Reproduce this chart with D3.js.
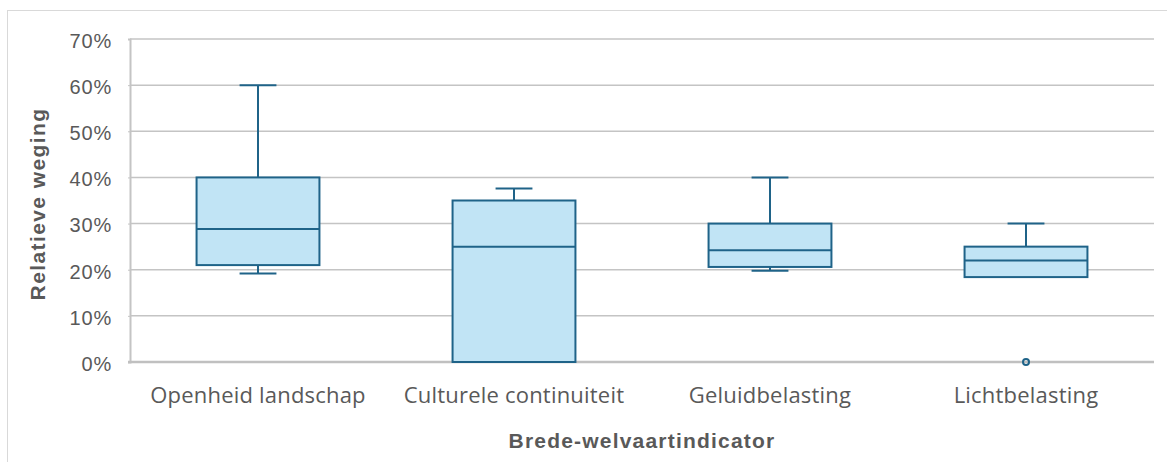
<!DOCTYPE html>
<html>
  <head>
    <meta charset="utf-8">
    <script src="https://d3js.org/d3.v7.min.js"></script>
    <style>
      body { margin: 0; background: white; }
      svg { display: block; }
    </style>
  </head>
  <body>
    <script>
      // box plot values (fractions)
      var categories = ['Openheid landschap', 'Culturele continuiteit', 'Geluidbelasting', 'Lichtbelasting'];
      var whiskerLow = [0.192, 0.0, 0.198, 0.184];
      var q1 = [0.21, 0.0, 0.206, 0.184];
      var median = [0.288, 0.25, 0.242, 0.22];
      var q3 = [0.40, 0.35, 0.30, 0.25];
      var whiskerHigh = [0.60, 0.376, 0.40, 0.30];
      var outliers = [[], [], [], [0.0]];
      var yTicks = [0, 0.1, 0.2, 0.3, 0.4, 0.5, 0.6, 0.7];

      var W = 1167, H = 462;
      var margin = {top: 39, right: 13, bottom: 100, left: 130};

      var svg = d3.select('body').append('svg')
        .attr('width', W)
        .attr('height', H);

      // chart frame
      svg.append('rect')
        .attr('x', 7.5).attr('y', 10.5)
        .attr('width', W).attr('height', H)
        .attr('fill', 'none')
        .attr('stroke', '#d9d9d9')
        .attr('stroke-width', 1);

      var x = d3.scaleBand()
        .domain(categories)
        .range([margin.left, W - margin.right])
        .paddingInner(0).paddingOuter(0);

      var y = d3.scaleLinear()
        .domain([0, 0.7])
        .range([H - margin.bottom, margin.top]);

      // gridlines
      svg.append('g')
        .selectAll('line')
        .data(yTicks.slice(1))
        .enter().append('line')
          .attr('x1', margin.left)
          .attr('x2', W - margin.right)
          .attr('y1', function(d) { return y(d); })
          .attr('y2', function(d) { return y(d); })
          .attr('stroke', '#c4c4c4')
          .attr('stroke-width', 1.5);

      // y axis
      var yAxis = svg.append('g')
        .attr('transform', 'translate(' + margin.left + ',0)')
        .call(d3.axisLeft(y).tickValues(yTicks).tickFormat(d3.format('.0%')).tickSize(2).tickPadding(16));
      yAxis.select('.domain').attr('stroke', '#c4c4c4').attr('stroke-width', 2);
      yAxis.selectAll('.tick line').attr('stroke', '#c4c4c4');
      yAxis.selectAll('text')
        .attr('fill', '#595959')
        .attr('dy', '0.42em')
        .style('font-family', '"Liberation Sans", Arial, sans-serif')
        .style('font-size', '20px')
        .style('letter-spacing', '0.8px');

      // x axis base line
      svg.append('line')
        .attr('x1', margin.left - 2)
        .attr('x2', W - margin.right)
        .attr('y1', y(0)).attr('y2', y(0))
        .attr('stroke', '#c0c0c0')
        .attr('stroke-width', 2.5);

      // category labels
      svg.append('g')
        .selectAll('text')
        .data(categories)
        .enter().append('text')
          .attr('x', function(d) { return x(d) + x.bandwidth() / 2; })
          .attr('y', 403)
          .attr('text-anchor', 'middle')
          .attr('fill', '#595959')
          .style('font-family', '"Open Sans", sans-serif')
          .style('font-size', '22px')
          .style('letter-spacing', '0.2px')
          .text(function(d) { return d; });

      // boxes
      var boxW = x.bandwidth() * 0.48;
      var capW = boxW * 0.3;
      var stroke = '#1f6388';

      var g = svg.append('g')
        .selectAll('g')
        .data(categories)
        .enter().append('g')
          .attr('transform', function(d) { return 'translate(' + (x(d) + x.bandwidth() / 2) + ',0)'; });

      // whiskers
      g.append('line')
        .attr('x1', 0).attr('x2', 0)
        .attr('y1', function(d, i) { return y(whiskerHigh[i]); })
        .attr('y2', function(d, i) { return y(q3[i]); })
        .attr('stroke', stroke).attr('stroke-width', 2);
      g.append('line')
        .attr('x1', 0).attr('x2', 0)
        .attr('y1', function(d, i) { return y(whiskerLow[i]); })
        .attr('y2', function(d, i) { return y(q1[i]); })
        .attr('stroke', stroke).attr('stroke-width', 2);
      g.append('line')
        .attr('x1', -capW / 2).attr('x2', capW / 2)
        .attr('y1', function(d, i) { return y(whiskerHigh[i]); })
        .attr('y2', function(d, i) { return y(whiskerHigh[i]); })
        .attr('stroke', stroke).attr('stroke-width', 2);
      g.append('line')
        .attr('x1', -capW / 2).attr('x2', capW / 2)
        .attr('y1', function(d, i) { return y(whiskerLow[i]); })
        .attr('y2', function(d, i) { return y(whiskerLow[i]); })
        .attr('stroke', stroke).attr('stroke-width', 2);

      g.append('rect')
        .attr('x', -boxW / 2)
        .attr('width', boxW)
        .attr('y', function(d, i) { return y(q3[i]); })
        .attr('height', function(d, i) { return y(q1[i]) - y(q3[i]); })
        .attr('fill', '#c1e4f5')
        .attr('stroke', stroke)
        .attr('stroke-width', 2);

      g.append('line')
        .attr('x1', -boxW / 2).attr('x2', boxW / 2)
        .attr('y1', function(d, i) { return y(median[i]); })
        .attr('y2', function(d, i) { return y(median[i]); })
        .attr('stroke', stroke).attr('stroke-width', 2);

      g.each(function(d, i) {
        d3.select(this).selectAll('circle')
          .data(outliers[i])
          .enter().append('circle')
            .attr('cx', 0)
            .attr('cy', function(v) { return y(v); })
            .attr('r', 3)
            .attr('fill', 'none')
            .attr('stroke', stroke)
            .attr('stroke-width', 2);
      });

      // axis titles
      svg.append('text')
        .attr('transform', 'translate(45,204) rotate(-90)')
        .attr('text-anchor', 'middle')
        .attr('fill', '#595959')
        .style('font-family', '"Liberation Sans", Arial, sans-serif')
        .style('font-weight', 'bold')
        .style('font-size', '21px')
        .style('letter-spacing', '1.4px')
        .text('Relatieve weging');

      svg.append('text')
        .attr('x', (margin.left + W - margin.right) / 2)
        .attr('y', 448)
        .attr('text-anchor', 'middle')
        .attr('fill', '#595959')
        .style('font-family', '"Liberation Sans", Arial, sans-serif')
        .style('font-weight', 'bold')
        .style('font-size', '21px')
        .style('letter-spacing', '1.2px')
        .text('Brede-welvaartindicator');
    </script>
  </body>
</html>
